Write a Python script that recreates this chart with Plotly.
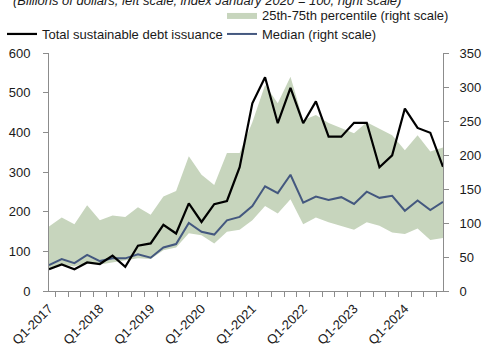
import plotly.graph_objects as go

quarters = [f"Q{q}-{y}" for y in range(2017, 2025) for q in range(1, 5)]
tick_labels = [c if c.startswith("Q1") else "" for c in quarters]

total_issuance = [55, 67, 55, 72, 68, 89, 61, 114, 120, 167, 145, 221, 174, 219, 227, 312,
                  473, 539, 423, 512, 423, 478, 389, 389, 424, 424, 312, 342, 460, 411, 399, 313]
median_idx = [38, 47, 41, 53, 44, 48, 48, 54, 49, 64, 69, 100, 87, 83, 104, 109,
              125, 154, 144, 171, 130, 139, 134, 138, 128, 146, 137, 140, 118, 133, 119, 131]
p25 = [34, 39, 36, 42, 39, 42, 44, 48, 47, 60, 64, 85, 82, 70, 87, 90,
       104, 125, 114, 135, 98, 108, 101, 96, 90, 101, 96, 86, 84, 92, 75, 78]
p75 = [95, 108, 98, 126, 104, 111, 109, 123, 112, 139, 147, 198, 171, 156, 203, 203,
       248, 303, 276, 315, 251, 259, 247, 239, 232, 248, 239, 229, 207, 229, 205, 211]

GREEN = "#c7d5bd"
BLUE = "#44587f"
AXIS = "#8c8c8c"
TXT = "#1a1a1a"
FONT = "Liberation Sans, Arial, sans-serif"

fig = go.Figure()
fig.add_trace(go.Scatter(x=quarters, y=p25, mode="lines", line=dict(width=0, color=GREEN),
                         showlegend=False, hoverinfo="skip", yaxis="y"))
fig.add_trace(go.Scatter(x=quarters, y=p75, mode="lines", line=dict(width=0, color=GREEN),
                         fill="tonexty", fillcolor=GREEN,
                         name="25th-75th percentile (right scale)", legend="legend", yaxis="y"))
fig.add_trace(go.Scatter(x=quarters, y=median_idx, mode="lines", line=dict(width=2, color=BLUE),
                         name="Median (right scale)", legend="legend3", yaxis="y"))
fig.add_trace(go.Scatter(x=quarters, y=total_issuance, mode="lines", line=dict(width=2.2, color="#000000"),
                         name="Total sustainable debt issuance", legend="legend2", yaxis="y2"))

legend_common = dict(xref="container", yref="container", xanchor="left", yanchor="top",
                     bgcolor="rgba(0,0,0,0)", font=dict(size=13, color=TXT, family=FONT),
                     orientation="h", borderwidth=0)

fig.update_layout(
    width=484, height=348,
    margin=dict(l=49, r=41, t=53, b=57, autoexpand=False),
    paper_bgcolor="white", plot_bgcolor="white",
    font=dict(family=FONT, size=13, color=TXT),
    showlegend=True,
    title=dict(text="<i>(Billions of dollars, left scale; index January 2020 = 100, right scale)</i>",
               x=13 / 484, xanchor="left", xref="container",
               y=1.0, yanchor="middle", yref="container",
               font=dict(size=13, color=TXT, family=FONT)),
    legend=dict(x=222 / 484, y=1.0, **legend_common),
    legend2=dict(x=2 / 484, y=1 - 19 / 348, **legend_common),
    legend3=dict(x=222 / 484, y=1 - 19 / 348, **legend_common),
    xaxis=dict(type="category", categoryorder="array", categoryarray=quarters,
               tickmode="array", tickvals=quarters, ticktext=tick_labels,
               tickson="boundaries", ticks="outside", ticklen=5, tickcolor=AXIS,
               showline=True, linecolor=AXIS, linewidth=1, showgrid=False, zeroline=False,
               tickangle=-45, tickfont=dict(size=13, color=TXT), automargin=False,
               ticklabelstandoff=4),
    yaxis=dict(side="right", range=[0, 350], dtick=50, tick0=0,
               showline=True, linecolor=AXIS, linewidth=1, ticks="outside", ticklen=5,
               tickcolor=AXIS, showgrid=False, zeroline=False, ticklabelstandoff=8,
               tickfont=dict(size=13, color=TXT), automargin=False),
    yaxis2=dict(side="left", overlaying="y", range=[0, 600], dtick=100, tick0=0,
                showline=True, linecolor=AXIS, linewidth=1, ticks="outside", ticklen=5,
                tickcolor=AXIS, showgrid=False, zeroline=False, ticklabelstandoff=10,
                tickfont=dict(size=13, color=TXT), automargin=False),
)

fig.write_html("out.html", config={"displayModeBar": False},
               post_script="document.body.style.margin='0';")
